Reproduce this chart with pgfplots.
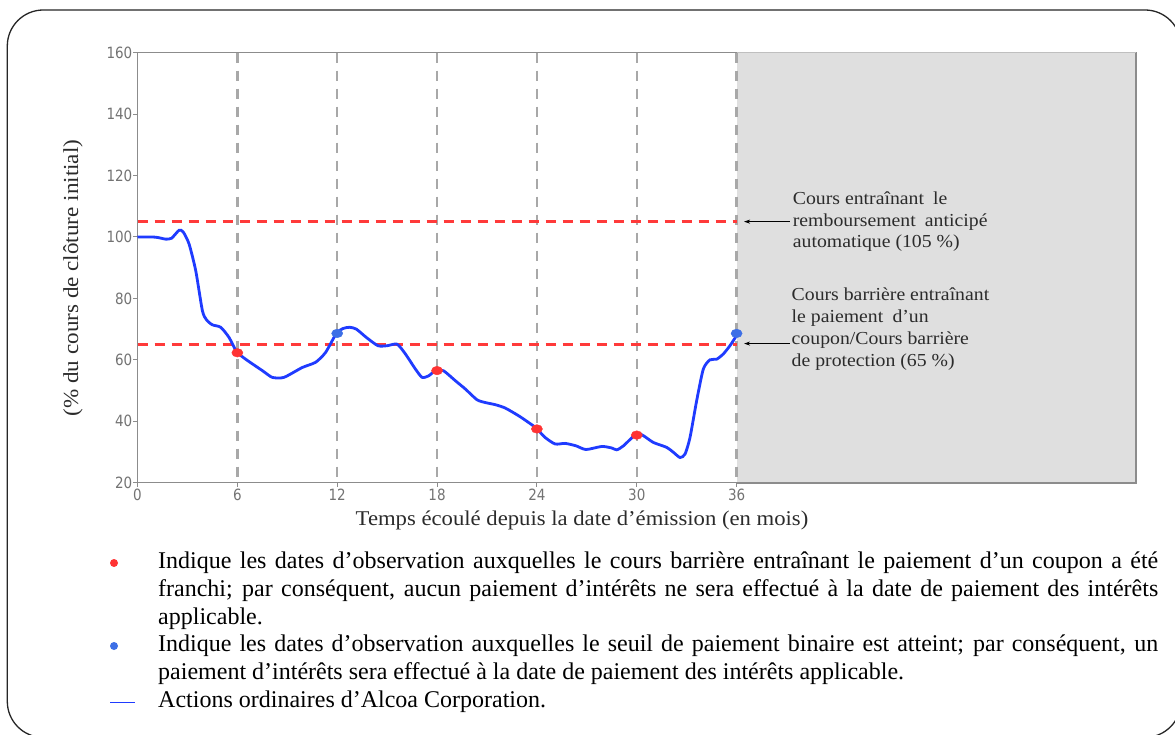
\documentclass[border=0pt]{standalone}
\usepackage{fontspec}
\usepackage{pgfplots}
\pgfplotsset{compat=1.18}
\usetikzlibrary{arrows.meta}
\setmainfont{Liberation Serif}
\newfontfamily\labfam[FakeStretch=1.08]{Liberation Serif}
\newfontfamily\tickfam[FakeStretch=0.87]{DejaVu Sans}
\newcommand\tickfont{\tickfam\fontsize{15.5}{16}\selectfont}
\newcommand\annfont{\labfam\fontsize{18.3}{21.7}\selectfont}
\newcommand\legfont{\fontsize{24}{27.7}\selectfont}
\hyphenpenalty=10000
\exhyphenpenalty=10000
\definecolor{lineblue}{HTML}{1F3BFF}
\definecolor{dotblue}{HTML}{3D6FE6}
\definecolor{dotred}{HTML}{FF3333}
\definecolor{redline}{HTML}{FF3A3A}
\definecolor{vgray}{HTML}{A8A8A8}
\definecolor{regiongray}{HTML}{DFDFDF}
\definecolor{axgray}{HTML}{8C8C8C}
\definecolor{tickgray}{HTML}{737373}
\definecolor{labgray}{HTML}{2B2B2B}
\begin{document}
\begin{tikzpicture}
\useasboundingbox (0pt,0pt) rectangle (1175pt,734pt);
\fill[white] (0pt,0pt) rectangle (1175pt,734pt);
\draw[rounded corners=36pt, line width=1.3pt, black!85] (7.3pt,-3.4pt) rectangle (1181pt,724pt);
\begin{axis}[
  at={(137.5pt,251.3pt)}, anchor=south west,
  width=998.5pt, height=430pt, scale only axis,
  xmin=0, xmax=60, ymin=20, ymax=160,
  xtick={0,6,...,36}, ytick={20,40,...,160},
  tick pos=left, tick align=outside, major tick length=4pt,
  axis line style={draw=axgray, line width=1.5pt},
  tick style={draw=axgray, line width=1pt},
  ticklabel style={font=\tickfont, text=tickgray},
  /pgf/number format/assume math mode=true,
  yticklabel style={inner sep=1pt},
  xticklabel style={inner sep=2pt},
  clip=false,
]
\fill[regiongray] (axis cs:36,20) rectangle (axis cs:60,160);
\draw[black!25, line width=1.2pt] (axis cs:36,160) -- (axis cs:60,160);
\draw[black!45, line width=2pt] (axis cs:60,160) -- (axis cs:60,20) -- (axis cs:36,20);
\draw[axgray, line width=1.5pt] (axis cs:0,20) -- (axis cs:36,20);
\draw[vgray, line width=2.5pt, dash pattern=on 10pt off 8pt] (axis cs:6,160) -- (axis cs:6,20);
\draw[vgray, line width=2.5pt, dash pattern=on 10pt off 8pt] (axis cs:12,160) -- (axis cs:12,20);
\draw[vgray, line width=2.5pt, dash pattern=on 10pt off 8pt] (axis cs:18,160) -- (axis cs:18,20);
\draw[vgray, line width=2.5pt, dash pattern=on 10pt off 8pt] (axis cs:24,160) -- (axis cs:24,20);
\draw[vgray, line width=2.5pt, dash pattern=on 10pt off 8pt] (axis cs:30,160) -- (axis cs:30,20);
\draw[vgray, line width=2.5pt, dash pattern=on 10pt off 8pt] (axis cs:36,160) -- (axis cs:36,20);
\addplot[redline, line width=2.5pt, dash pattern=on 10pt off 7pt] coordinates {(0,105) (36,105)};
\addplot[redline, line width=2.5pt, dash pattern=on 10pt off 7pt] coordinates {(0,65) (36,65)};
\addplot[lineblue, line width=2.8pt, smooth, tension=0.4] coordinates {
(0,100) (0.9,100) (1.25,99.8) (1.7,99.3) (2.05,99.6) (2.5,102.2) (2.75,101.6) (3.1,97.7) (3.5,89) (3.9,76) (4.15,73) (4.5,71.4) (5.0,70.6) (5.5,67.3) (5.95,62.7) (6.5,60.2) (7.5,56.5) (8.1,54.3) (8.8,54.3) (9.9,57.5) (10.7,59.2) (11.3,62.4) (11.95,68.6) (12.35,70.2) (12.75,70.6) (13.15,70) (13.75,67.3) (14.45,64.6) (15.0,64.6) (15.6,65.1) (16.1,61.9) (16.7,57) (17.1,54.3) (17.5,54.8) (17.95,56.7) (18.4,56.4) (19.1,53.2) (19.7,50.5) (20.4,47) (20.9,46.1) (21.5,45.4) (22.1,44.3) (22.9,41.8) (23.5,39.6) (23.95,37.8) (24.5,34.7) (25.1,32.6) (25.7,32.8) (26.35,32) (26.95,30.8) (27.9,31.8) (28.5,31.3) (28.8,30.7) (29.2,32) (30.0,36) (30.4,35.3) (31.0,33.1) (31.8,31.5) (32.2,29.9) (32.6,28.2) (32.9,29.3) (33.2,34.7) (33.6,46.7) (34.0,57) (34.4,60) (34.8,60.2) (35.2,61.9) (35.6,64.6) (35.95,67.5)
};
\addplot[only marks, mark=*, mark size=4.3pt, mark options={xscale=1.3, draw=dotred, fill=dotred}] coordinates {(6,62.3) (18,56.5) (24,37.5) (30,35.5)};
\addplot[only marks, mark=*, mark size=4.3pt, mark options={xscale=1.3, draw=dotblue, fill=dotblue}] coordinates {(12,68.6) (36,68.6)};
\draw[-{Stealth[length=6pt,width=4pt]}, line width=0.8pt] (axis cs:39.2,105) -- (axis cs:36.45,105);
\draw[-{Stealth[length=6pt,width=4pt]}, line width=0.8pt] (axis cs:39.2,65.3) -- (axis cs:36.45,65.3);
\node[anchor=west, align=left, font=\annfont, text=labgray, inner sep=0pt] at (axis cs:39.37,105) {Cours entraînant\enspace le\\remboursement\enspace anticipé\\automatique (105~\%)};
\node[anchor=west, align=left, font=\annfont, text=labgray, inner sep=0pt] at (axis cs:39.3,70) {Cours barrière entraînant\\le paiement\enspace d’un\\coupon/Cours barrière\\de protection (65~\%)};
\end{axis}
\node[rotate=90, font=\labfam\fontsize{21.4}{24}\selectfont, text=labgray] at (73pt,456pt) {(\% du cours de clôture initial)};
\node[anchor=base, font=\labfam\fontsize{21}{24}\selectfont, text=labgray] at (582pt,208pt) {Temps écoulé depuis la date d’émission (en mois)};
\fill[dotred] (114pt,171pt) circle (4pt);
\fill[dotblue] (114pt,88pt) circle (4pt);
\fill[lineblue] (110pt,30.6pt) rectangle (135pt,32.4pt);
\node[anchor=north west, inner sep=0pt, text width=1000pt, align=justify, font=\legfont] at (158pt,184.9pt) {\strut Indique les dates d’observation auxquelles le cours barrière entraînant le paiement d’un coupon a été\linebreak franchi; par conséquent, aucun paiement d’intérêts ne sera effectué à la date de paiement des intérêts\linebreak applicable.};
\node[anchor=north west, inner sep=0pt, text width=1000pt, align=justify, font=\legfont] at (158pt,101.8pt) {\strut Indique les dates d’observation auxquelles le seuil de paiement binaire est atteint; par conséquent, un\linebreak paiement d’intérêts sera effectué à la date de paiement des intérêts applicable.};
\node[anchor=north west, inner sep=0pt, text width=1000pt, align=justify, font=\legfont] at (158pt,46.4pt) {\strut Actions ordinaires d’Alcoa Corporation.};
\end{tikzpicture}
\end{document}
